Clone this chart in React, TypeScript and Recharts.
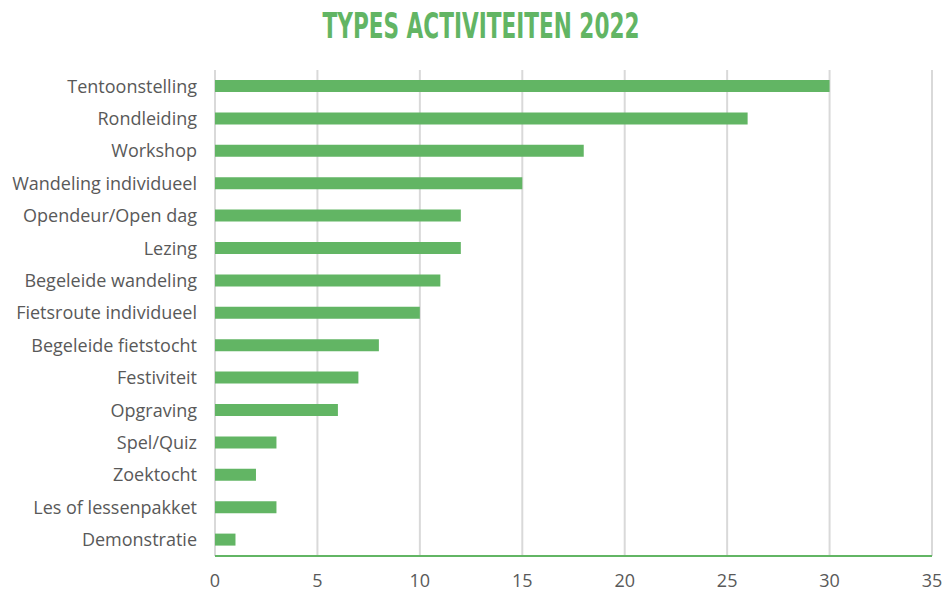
import React from 'react';
import { BarChart, Bar, XAxis, YAxis, CartesianGrid } from 'recharts';

const categories = [
  'Tentoonstelling',
  'Rondleiding',
  'Workshop',
  'Wandeling individueel',
  'Opendeur/Open dag',
  'Lezing',
  'Begeleide wandeling',
  'Fietsroute individueel',
  'Begeleide fietstocht',
  'Festiviteit',
  'Opgraving',
  'Spel/Quiz',
  'Zoektocht',
  'Les of lessenpakket',
  'Demonstratie',
];
const counts = [30, 26, 18, 15, 12, 12, 11, 10, 8, 7, 6, 3, 2, 3, 1];
const xTicks = [0, 5, 10, 15, 20, 25, 30, 35];
const title = 'TYPES ACTIVITEITEN 2022';

const data = categories.map((name, i) => ({ name, value: counts[i] }));

const GREEN = '#62B564';
const TEXT = '#595959';

export default function App() {
  return (
    <div style={{ position: 'absolute', left: 0, top: 0, width: 944, height: 592, background: '#fff', overflow: 'hidden' }}>
      <svg width={944} height={60} style={{ position: 'absolute', left: 0, top: 0 }}>
        <text
          x={481}
          y={38}
          textAnchor="middle"
          fill={GREEN}
          fontFamily="'DejaVu Sans', sans-serif"
          fontWeight={700}
          fontSize={35}
          textLength={317}
          lengthAdjust="spacingAndGlyphs"
        >
          {title}
        </text>
      </svg>
      <div style={{ position: 'absolute', left: 0, top: 0 }}>
        <BarChart
          width={944}
          height={592}
          data={data}
          layout="vertical"
          margin={{ top: 70, right: 12, bottom: 0, left: 0 }}
          barCategoryGap={0}
        >
          <CartesianGrid horizontal={false} vertical={true} stroke="#d9d9d9" strokeWidth={2} />
          <XAxis
            type="number"
            domain={[0, 35]}
            ticks={xTicks}
            interval={0}
            height={36}
            axisLine={{ stroke: GREEN, strokeWidth: 2 }}
            tickLine={false}
            tickMargin={12}
            tick={{ fill: TEXT, fontSize: 18, fontFamily: "'Open Sans', sans-serif" }}
          />
          <YAxis
            type="category"
            dataKey="name"
            width={215}
            axisLine={false}
            tickLine={false}
            tickMargin={12}
            interval={0}
            tick={{ fill: TEXT, fontSize: 18, fontFamily: "'Open Sans', sans-serif" }}
          />
          <Bar dataKey="value" fill={GREEN} barSize={12} isAnimationActive={false} />
        </BarChart>
      </div>
    </div>
  );
}
